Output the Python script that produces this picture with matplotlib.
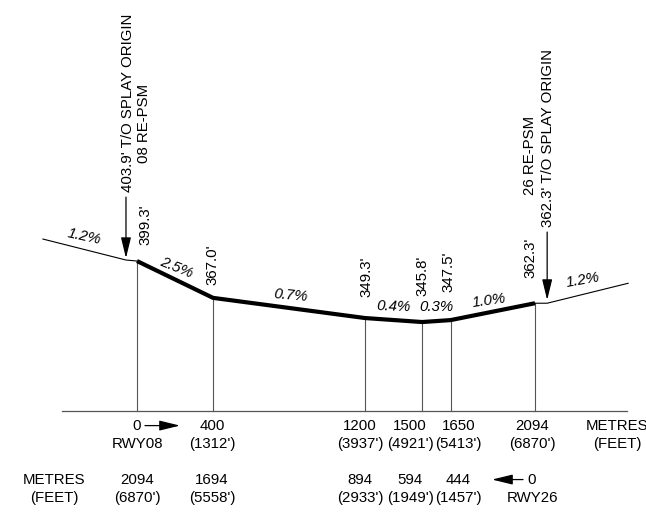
import matplotlib.pyplot as plt

# runway longitudinal profile (chainage in metres, elevation in feet)
stations_m = [0, 400, 1200, 1500, 1650, 2094]
elev_ft = [399.3, 367.0, 349.3, 345.8, 347.5, 362.3]
grades = ['2.5%', '0.7%', '0.4%', '0.3%', '1.0%']

# distance labels below the profile
metres_08 = ['0', '400', '1200', '1500', '1650', '2094']
feet_08 = ['RWY08', "(1312')", "(3937')", "(4921')", "(5413')", "(6870')"]
metres_26 = ['2094', '1694', '894', '594', '444', '0']
feet_26 = ["(6870')", "(5558')", "(2933')", "(1949')", "(1457')", 'RWY26']

# splay extensions beyond each end
ext08_m = [-495, -58, 0]
ext08_ft = [418.6, 400.2, 399.3]
ext26_m = [2094, 2158, 2584]
ext26_ft = [362.3, 362.3, 379.8]
ext_grade = '1.2%'
splay08 = ["403.9' T/O SPLAY ORIGIN", '08 RE-PSM']
splay26 = ["362.3' T/O SPLAY ORIGIN", '26 RE-PSM']

datum_ft = 267.7
baseline_m = [-395, 2579]

plt.rcParams['font.family'] = ['Liberation Sans', 'DejaVu Sans']
FS = 10.8

fig = plt.figure(figsize=(6.46, 5.14), dpi=100)
ax = fig.add_axes([0, 0, 1, 1])
ax.set_xlim(-720.8, 2678.0)
ax.set_ylim(177.4, 628.3)
ax.axis('off')

# datum line and drop lines
ax.plot(baseline_m, [datum_ft, datum_ft], color='#555555', lw=0.9)
for s, e in zip(stations_m, elev_ft):
    ax.plot([s, s], [datum_ft, e], color='#555555', lw=0.8)

# profile
ax.plot(stations_m, elev_ft, color='black', lw=3, solid_capstyle='butt')
ax.plot(ext08_m, ext08_ft, color='black', lw=0.8)
ax.plot(ext26_m, ext26_ft, color='black', lw=0.8)

# elevation labels
elev_off = [(8, 36), (-1, 33), (1, 41), (0, 46), (-2, 48), (-5, 45)]
for s, e, off in zip(stations_m, elev_ft, elev_off):
    ax.annotate(f"{e:.1f}'", (s, e), xytext=off, textcoords='offset pixels',
                rotation=90, ha='center', va='center', fontsize=FS)

# grade labels
grade_rot = [-22, -5, -2, 0, 8]
grade_off = [(1, 12), (2, 12), (0, 13), (0, 14), (-4, 11)]
for i, g in enumerate(grades):
    mx = (stations_m[i] + stations_m[i + 1]) / 2
    my = (elev_ft[i] + elev_ft[i + 1]) / 2
    ax.annotate(g, (mx, my), xytext=grade_off[i], textcoords='offset pixels',
                rotation=grade_rot[i], ha='center', va='center',
                fontsize=FS, style='italic')

ax.annotate(ext_grade, ((ext08_m[0] + ext08_m[1]) / 2, (ext08_ft[0] + ext08_ft[1]) / 2),
            xytext=(0, 13), textcoords='offset pixels', rotation=-12,
            ha='center', va='center', fontsize=FS, style='italic')
ax.annotate(ext_grade, ((ext26_m[1] + ext26_m[2]) / 2, (ext26_ft[1] + ext26_ft[2]) / 2),
            xytext=(-5, 13), textcoords='offset pixels', rotation=10,
            ha='center', va='center', fontsize=FS, style='italic')

# splay origin arrows
head = dict(arrowstyle='-|>,head_length=0.9,head_width=0.22', color='black',
            lw=0.9, mutation_scale=14, shrinkA=0, shrinkB=0)
ax.annotate('', xy=(ext08_m[1], 401.9), xytext=(ext08_m[1], 455.4), arrowprops=head)
ax.annotate('', xy=(ext26_m[1], 365.1), xytext=(ext26_m[1], 424.7), arrowprops=head)
ax.text(-47, 459.8, splay08[0], rotation=90, ha='center', va='bottom', fontsize=FS)
ax.text(37, 485.3, splay08[1], rotation=90, ha='center', va='bottom', fontsize=FS)
ax.text(2162, 429.1, splay26[0], rotation=90, ha='center', va='bottom', fontsize=FS)
ax.text(2068, 457.2, splay26[1], rotation=90, ha='center', va='bottom', fontsize=FS)

# distance tables
tr = ax.get_xaxis_transform()
rows_y = [0.172, 0.136, 0.067, 0.031]
col_shift = [0, -1, -5, -12, 8, -3]
for row, labels in zip(rows_y, [metres_08, feet_08, metres_26, feet_26]):
    for s, lab, dx in zip(stations_m, labels, col_shift):
        ax.annotate(lab, (s, row), xycoords=tr, xytext=(dx, 0),
                    textcoords='offset pixels', ha='center', va='center', fontsize=FS)
ax.text(2525, rows_y[0], 'METRES', transform=tr, ha='center', va='center', fontsize=FS)
ax.text(2525, rows_y[1], '(FEET)', transform=tr, ha='center', va='center', fontsize=FS)
ax.text(-437, rows_y[2], 'METRES', transform=tr, ha='center', va='center', fontsize=FS)
ax.text(-437, rows_y[3], '(FEET)', transform=tr, ha='center', va='center', fontsize=FS)

ax.annotate('', xy=(226, rows_y[0]), xytext=(42, rows_y[0]), xycoords=tr,
            textcoords=tr, arrowprops=head)
ax.annotate('', xy=(1868, rows_y[2]), xytext=(2031, rows_y[2]), xycoords=tr,
            textcoords=tr, arrowprops=head)

fig.savefig('out.png', dpi=100)
